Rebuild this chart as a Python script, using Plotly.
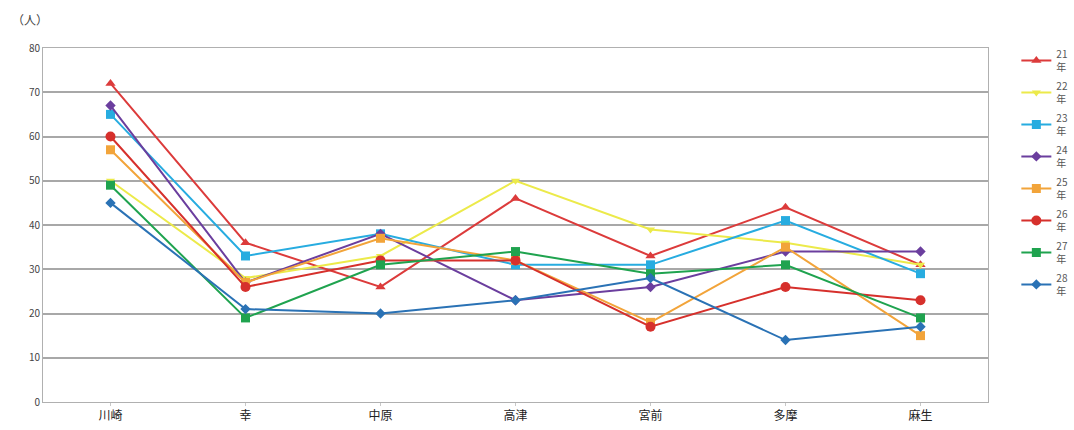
import plotly.graph_objects as go

# 区ごとの人数（年度別）
wards = ["川崎", "幸", "中原", "高津", "宮前", "多摩", "麻生"]
years = ["21", "22", "23", "24", "25", "26", "27", "28"]

y21 = [72, 36, 26, 46, 33, 44, 31]
y22 = [50, 28, 33, 50, 39, 36, 31]
y23 = [65, 33, 38, 31, 31, 41, 29]
y24 = [67, 27, 38, 23, 26, 34, 34]
y25 = [57, 27, 37, 32, 18, 35, 15]
y26 = [60, 26, 32, 32, 17, 26, 23]
y27 = [49, 19, 31, 34, 29, 31, 19]
y28 = [45, 21, 20, 23, 28, 14, 17]

y_ticks = [0, 10, 20, 30, 40, 50, 60, 70, 80]

series = [y21, y22, y23, y24, y25, y26, y27, y28]
colors = ["#dc3b3b", "#ecea4a", "#27ace0", "#6b3e9e", "#f2a43a",
          "#d6302c", "#1fa34f", "#2a72b5"]
symbols = ["triangle-up", "triangle-down", "square", "diamond",
           "square", "circle", "square", "diamond"]
sizes = [9, 8, 9, 8, 9, 10, 9, 8]

fig = go.Figure()
for yr, vals, c, s, sz in zip(years, series, colors, symbols, sizes):
    fig.add_trace(go.Scatter(
        x=wards, y=vals, name=f"{yr}<br>年", mode="lines+markers",
        legendgroup=yr,
        line=dict(color=c, width=2),
        marker=dict(symbol=s, size=sz, color=c),
    ))

fig.update_layout(
    width=1074, height=430,
    margin=dict(l=43, r=86, t=48, b=28, autoexpand=False),
    paper_bgcolor="white", plot_bgcolor="white",
    font=dict(family="Noto Sans CJK JP, sans-serif", color="#333"),
    showlegend=True,
    legend=dict(x=1.03, y=1.02, xanchor="left", yanchor="top",
                font=dict(size=10, color="#555"), tracegroupgap=3,
                itemwidth=30, maxheight=1, bgcolor="rgba(0,0,0,0)"),
    xaxis=dict(type="category", range=[-0.5, 6.5], showgrid=False,
               showline=True, linecolor="#b0b0b0", linewidth=1, mirror=True,
               ticks="outside", ticklen=3, tickcolor="#c8c8c8",
               tickfont=dict(size=12, color="#222"), fixedrange=True),
    yaxis=dict(range=[0, 80], tickvals=y_ticks, showgrid=True,
               gridcolor="#a8a8a8", gridwidth=1.5, zeroline=False,
               showline=True, linecolor="#b0b0b0", linewidth=1, mirror=True,
               tickfont=dict(size=10, color="#444"), fixedrange=True),
    annotations=[dict(text="（人）", x=0, y=1, xref="paper", yref="paper",
                      xshift=-33, yshift=18, showarrow=False,
                      xanchor="left", yanchor="bottom",
                      font=dict(size=12, color="#444"))],
)

fig.write_html("out.html")
